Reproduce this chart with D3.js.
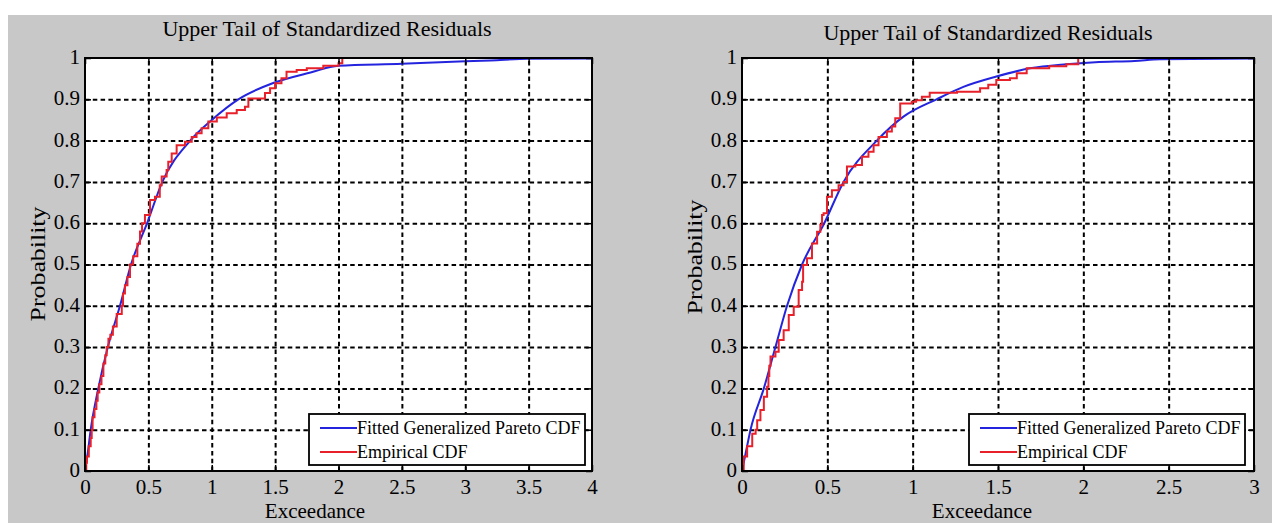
<!DOCTYPE html>
<html>
<head>
<meta charset="utf-8">
<script src="https://cdn.jsdelivr.net/npm/d3@7"></script>
<style>
  body { margin: 0; background: #fff; }
  text { font-family: "Liberation Serif", "Times New Roman", serif; fill: #000; }
</style>
</head>
<body>
<div id="canvas"></div>
<script>
/*
 * Chart values
 *
 */
const titleText = 'Upper Tail of Standardized Residuals';
const xLabelText = 'Exceedance';
const yLabelText = 'Probability';
const legendLabels = ['Fitted Generalized Pareto CDF', 'Empirical CDF'];

const yTicks = [0, 0.1, 0.2, 0.3, 0.4, 0.5, 0.6, 0.7, 0.8, 0.9, 1];
const leftXTicks = [0, 0.5, 1, 1.5, 2, 2.5, 3, 3.5, 4];
const rightXTicks = [0, 0.5, 1, 1.5, 2, 2.5, 3];

// left panel, fitted curve
const leftFitX = [0, 0.02, 0.045, 0.105, 0.18, 0.276, 0.363, 0.49, 0.61, 0.83, 1.0, 1.21, 1.49, 1.78, 2.0, 2.5, 2.8, 3.2, 3.5, 4.0];
const leftFitY = [0, 0.04, 0.1, 0.2, 0.3, 0.4, 0.5, 0.6, 0.7, 0.8, 0.85, 0.9, 0.94, 0.965, 0.981, 0.986, 0.99, 0.994, 0.998, 0.999];
// left panel, empirical cdf (steps)
const leftEmpX = [0, 0.01, 0.015, 0.03, 0.045, 0.053, 0.06, 0.075, 0.09, 0.1, 0.113, 0.13, 0.145, 0.16, 0.171, 0.185, 0.2, 0.22, 0.25, 0.29, 0.3, 0.315, 0.335, 0.355, 0.38, 0.413, 0.434, 0.45, 0.473, 0.513, 0.552, 0.59, 0.605, 0.644, 0.657, 0.684, 0.723, 0.789, 0.842, 0.88, 0.92, 0.973, 1.04, 1.118, 1.197, 1.262, 1.289, 1.42, 1.46, 1.5, 1.55, 1.59, 1.67, 1.75, 1.88, 2.0, 2.03, 4.0];
const leftEmpY = [0, 0.02, 0.035, 0.06, 0.08, 0.1, 0.13, 0.15, 0.17, 0.19, 0.21, 0.23, 0.26, 0.28, 0.3, 0.32, 0.33, 0.35, 0.38, 0.4, 0.43, 0.45, 0.47, 0.5, 0.52, 0.55, 0.58, 0.6, 0.62, 0.656, 0.664, 0.692, 0.713, 0.729, 0.749, 0.769, 0.789, 0.797, 0.809, 0.818, 0.83, 0.846, 0.856, 0.866, 0.874, 0.882, 0.902, 0.915, 0.927, 0.939, 0.951, 0.967, 0.971, 0.975, 0.981, 0.987, 1.0, 1.0];

// right panel, fitted curve
const rightFitX = [0, 0.02, 0.05, 0.128, 0.196, 0.264, 0.352, 0.482, 0.595, 0.79, 0.946, 1.14, 1.297, 1.49, 1.687, 1.9, 2.07, 2.3, 2.45, 3.0];
const rightFitY = [0, 0.04, 0.1, 0.2, 0.3, 0.4, 0.5, 0.6, 0.7, 0.8, 0.858, 0.9, 0.93, 0.955, 0.975, 0.985, 0.99, 0.993, 0.997, 0.999];
// right panel, empirical cdf (steps)
const rightEmpX = [0, 0.01, 0.03, 0.06, 0.08, 0.089, 0.108, 0.128, 0.147, 0.155, 0.16, 0.167, 0.196, 0.215, 0.244, 0.274, 0.303, 0.332, 0.352, 0.358, 0.381, 0.41, 0.44, 0.459, 0.469, 0.478, 0.498, 0.527, 0.566, 0.595, 0.615, 0.664, 0.703, 0.741, 0.771, 0.8, 0.849, 0.878, 0.898, 0.927, 0.995, 1.02, 1.054, 1.1, 1.26, 1.395, 1.443, 1.49, 1.57, 1.61, 1.668, 1.8, 1.9, 1.97, 2.95];
const rightEmpY = [0, 0.035, 0.06, 0.09, 0.1, 0.123, 0.148, 0.18, 0.204, 0.23, 0.255, 0.277, 0.289, 0.317, 0.341, 0.378, 0.398, 0.438, 0.458, 0.499, 0.515, 0.551, 0.579, 0.596, 0.62, 0.624, 0.664, 0.68, 0.692, 0.7, 0.737, 0.741, 0.761, 0.773, 0.789, 0.809, 0.822, 0.834, 0.854, 0.89, 0.894, 0.898, 0.906, 0.916, 0.918, 0.927, 0.935, 0.947, 0.951, 0.963, 0.975, 0.98, 0.985, 1.0, 1.0];

const fitColor = '#2424de';
const empColor = '#e8202a';

/*
 * Page layout
 *
 */
const svgWidth = 1272,
  svgHeight = 523;

const panels = [
  { left: 85, right: 592, xMax: 4, xTicks: leftXTicks,
    fitX: leftFitX, fitY: leftFitY, empX: leftEmpX, empY: leftEmpY,
    titleX: 327, titleY: 36, yLabelX: 38, yLabelY: 264, xLabelX: 315,
    legendX: 309 },
  { left: 742, right: 1254, xMax: 3, xTicks: rightXTicks,
    fitX: rightFitX, fitY: rightFitY, empX: rightEmpX, empY: rightEmpY,
    titleX: 988, titleY: 40, yLabelX: 695, yLabelY: 257, xLabelX: 982,
    legendX: 969 }
];
const plotTop = 58,
  plotBottom = 471;
const fontStack = '"Liberation Serif", "Times New Roman", serif';

const svg = d3.select('#canvas').append('svg')
  .attr('width', svgWidth)
  .attr('height', svgHeight);

svg.append('rect')
  .attr('width', svgWidth).attr('height', svgHeight)
  .attr('fill', '#fff');
svg.append('rect')
  .attr('x', 8).attr('y', 15)
  .attr('width', svgWidth - 8).attr('height', svgHeight - 15)
  .attr('fill', '#c8c8c8');

const yScale = d3.scaleLinear()
  .domain([0, 1])
  .range([plotBottom, plotTop]);

const plainNumber = d => String(d);

panels.forEach((p, k) => {
  const w = p.right - p.left,
    h = plotBottom - plotTop;

  const xScale = d3.scaleLinear()
    .domain([0, p.xMax])
    .range([p.left, p.right]);

  const g = svg.append('g').attr('class', `panel${k}`);

  g.append('rect')
    .attr('x', p.left).attr('y', plotTop)
    .attr('width', w).attr('height', h)
    .attr('fill', '#fff');

  // dashed grid
  g.append('g')
    .attr('transform', `translate(0,${plotBottom})`)
    .call(d3.axisBottom(xScale).tickValues(p.xTicks.slice(1, -1)).tickSize(-h).tickFormat(''))
    .call(a => a.select('.domain').remove());
  g.append('g')
    .attr('transform', `translate(${p.left},0)`)
    .call(d3.axisLeft(yScale).tickValues(yTicks.slice(1, -1)).tickSize(-w).tickFormat(''))
    .call(a => a.select('.domain').remove());
  g.selectAll('.tick line')
    .attr('stroke', '#000')
    .attr('stroke-width', 2)
    .attr('stroke-dasharray', '4.5,3.3');

  // clip for the curves
  g.append('clipPath').attr('id', `clip${k}`)
    .append('rect')
    .attr('x', p.left).attr('y', plotTop - 2)
    .attr('width', w).attr('height', h + 2);

  const fitData = p.fitX.map((x, i) => [x, p.fitY[i]]);
  const empData = p.empX.map((x, i) => [x, p.empY[i]]);

  const curves = g.append('g').attr('clip-path', `url(#clip${k})`);
  curves.append('path')
    .datum(fitData)
    .attr('fill', 'none')
    .attr('stroke', fitColor)
    .attr('stroke-width', 2)
    .attr('d', d3.line().x(d => xScale(d[0])).y(d => yScale(d[1])).curve(d3.curveMonotoneX));
  curves.append('path')
    .datum(empData)
    .attr('fill', 'none')
    .attr('stroke', empColor)
    .attr('stroke-width', 2)
    .attr('d', d3.line().x(d => xScale(d[0])).y(d => yScale(d[1])).curve(d3.curveStepAfter));

  // axes with inward ticks
  const bottomAxis = g.append('g')
    .attr('transform', `translate(0,${plotBottom})`)
    .call(d3.axisBottom(xScale).tickValues(p.xTicks).tickSizeInner(-6).tickSizeOuter(0).tickPadding(8).tickFormat(plainNumber));
  const topAxis = g.append('g')
    .attr('transform', `translate(0,${plotTop})`)
    .call(d3.axisTop(xScale).tickValues(p.xTicks).tickSizeInner(-6).tickSizeOuter(0).tickFormat(''));
  const leftAxis = g.append('g')
    .attr('transform', `translate(${p.left},0)`)
    .call(d3.axisLeft(yScale).tickValues(yTicks).tickSizeInner(-6).tickSizeOuter(0).tickPadding(5).tickFormat(plainNumber));
  const rightAxis = g.append('g')
    .attr('transform', `translate(${p.right},0)`)
    .call(d3.axisRight(yScale).tickValues(yTicks).tickSizeInner(-6).tickSizeOuter(0).tickFormat(''));

  [bottomAxis, topAxis, leftAxis, rightAxis].forEach(a => {
    a.select('.domain').remove();
    a.selectAll('.tick line').attr('stroke', '#000').attr('stroke-width', 1.5);
    a.selectAll('text')
      .style('font-family', fontStack)
      .style('font-size', '21px')
      .attr('fill', '#000');
  });
  leftAxis.selectAll('text').attr('dy', '0.26em');

  g.append('rect')
    .attr('x', p.left).attr('y', plotTop)
    .attr('width', w).attr('height', h)
    .attr('fill', 'none')
    .attr('stroke', '#000')
    .attr('stroke-width', 2);

  // legend
  const legend = g.append('g')
    .attr('transform', `translate(${p.legendX},414)`);
  legend.append('rect')
    .attr('width', 276).attr('height', 51)
    .attr('fill', '#fff')
    .attr('stroke', '#000')
    .attr('stroke-width', 1.8);
  [fitColor, empColor].forEach((c, i) => {
    const cy = 14 + i * 24;
    legend.append('line')
      .attr('x1', 11).attr('x2', 48)
      .attr('y1', cy).attr('y2', cy)
      .attr('stroke', c)
      .attr('stroke-width', 2);
    legend.append('text')
      .attr('x', 48).attr('y', cy + 6)
      .style('font-size', '18px')
      .text(legendLabels[i]);
  });

  // titles and axis labels
  g.append('text')
    .attr('x', p.titleX).attr('y', p.titleY)
    .attr('text-anchor', 'middle')
    .style('font-size', '22px')
    .text(titleText);
  g.append('text')
    .attr('x', p.xLabelX).attr('y', 518)
    .attr('text-anchor', 'middle')
    .style('font-size', '21px')
    .text(xLabelText);
  g.append('text')
    .attr('transform', `translate(${p.yLabelX},${p.yLabelY}) rotate(-90)`)
    .attr('text-anchor', 'middle')
    .attr('dy', '0.35em')
    .attr('textLength', 115)
    .attr('lengthAdjust', 'spacingAndGlyphs')
    .style('font-size', '21px')
    .text(yLabelText);
});
</script>
</body>
</html>
